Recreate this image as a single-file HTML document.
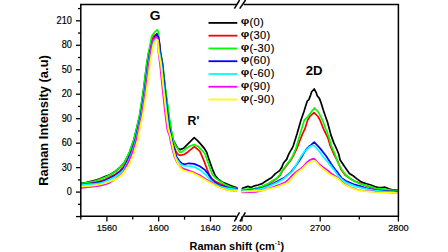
<!DOCTYPE html>
<html><head><meta charset="utf-8"><style>
html,body{margin:0;padding:0;background:#fff;}
body{width:448px;height:252px;overflow:hidden;}
svg{display:block;font-family:"Liberation Sans",sans-serif;}
</style></head><body>
<svg width="448" height="252" viewBox="0 0 448 252">
<rect width="448" height="252" fill="#fff"/>
<g fill="none" stroke-width="1.7" stroke-linejoin="round" stroke-linecap="round">
<polyline points="81.0,183.4 86.0,182.5 90.0,181.6 95.0,180.4 100.0,178.8 105.0,176.6 110.0,174.8 115.0,171.5 120.0,167.3 124.0,163.1 126.8,158.0 129.6,152.0 133.9,140.0 136.8,128.0 139.6,116.0 141.5,104.0 143.3,92.0 144.8,80.0 146.8,64.0 148.8,52.0 152.6,40.2 154.4,37.4 156.9,34.2 158.4,37.6 159.2,42.0 159.6,44.0 160.4,52.0 162.6,64.0 164.3,80.0 165.6,92.0 166.7,100.0 168.0,110.0 169.3,120.0 170.9,130.0 173.2,140.0 175.6,144.5 178.0,148.6 180.4,149.6 183.5,148.3 188.7,143.1 194.2,137.6 197.8,140.9 201.8,145.4 204.5,148.6 206.6,152.1 209.3,160.4 211.3,166.0 212.7,169.9 215.2,175.6 218.5,179.5 222.0,182.0 225.8,183.6 230.0,185.4 234.0,186.7 237.0,187.8" stroke="black"/>
<polyline points="242.3,188.2 245.0,187.4 247.8,186.4 251.0,187.4 254.4,185.8 258.0,185.0 262.2,183.6 265.6,181.3 268.0,179.7 271.8,177.5 275.1,173.9 279.6,170.6 281.8,167.2 283.4,163.3 285.1,161.1 286.8,159.1 287.9,156.1 289.0,153.6 290.7,150.6 292.3,148.0 293.2,146.0 297.0,134.0 301.0,120.0 303.9,111.8 305.6,106.2 307.2,101.2 308.9,99.6 310.6,95.1 311.7,91.8 314.2,89.0 316.1,92.3 317.2,95.7 319.4,98.4 321.1,102.9 323.3,110.1 325.5,116.5 327.7,122.7 330.9,134.9 333.8,142.9 335.3,146.0 337.5,151.0 338.7,154.0 340.1,160.0 343.0,164.3 345.9,168.6 349.4,173.6 353.0,175.7 356.6,178.6 361.6,182.1 366.6,183.8 370.8,185.0 374.7,186.6 378.4,187.6 381.7,187.7 385.0,187.2 388.9,188.8 393.6,190.2 398.0,190.4" stroke="black"/>
<polyline points="81.0,184.3 86.0,183.6 90.0,183.0 95.0,182.3 100.0,181.2 105.0,179.5 110.0,177.0 115.0,174.4 120.0,170.6 124.0,166.4 125.0,164.0 127.9,158.0 130.6,152.0 134.7,140.0 137.5,128.0 140.2,116.0 142.1,104.0 144.0,92.0 145.5,80.0 147.5,64.0 149.5,52.0 152.2,40.0 153.5,36.3 156.5,34.2 158.2,37.5 159.0,42.0 159.0,44.0 159.8,52.0 161.9,64.0 163.5,80.0 164.8,92.0 165.7,100.0 166.8,110.0 168.0,120.0 169.4,130.0 171.8,140.0 173.8,146.0 176.5,152.5 178.6,154.8 181.0,155.3 184.5,154.2 188.2,151.7 194.3,146.7 197.3,149.0 199.9,151.4 201.0,153.8 203.8,160.4 207.1,169.3 209.5,175.0 212.0,178.8 215.5,181.5 220.0,183.8 224.7,185.8 230.0,187.5 237.0,189.0" stroke="red"/>
<polyline points="242.3,190.2 250.0,189.6 262.0,187.0 268.0,184.2 272.0,181.8 276.8,178.6 280.0,175.5 282.9,169.8 285.1,167.6 287.3,164.5 290.7,160.2 293.0,156.5 297.1,148.0 299.3,142.0 302.1,134.9 304.9,128.9 307.7,120.0 310.0,116.2 314.0,112.6 318.0,116.5 320.0,120.0 323.8,129.6 325.0,132.0 327.8,137.5 330.3,146.0 334.2,154.9 337.6,161.0 340.9,169.3 345.1,175.0 350.0,178.5 355.1,181.4 359.4,182.9 366.0,185.8 374.7,188.6 384.6,190.0 394.5,191.6 398.0,192.0" stroke="red"/>
<polyline points="81.0,183.6 86.0,182.8 90.0,182.0 95.0,181.0 100.0,179.3 105.0,177.3 110.0,175.0 115.0,171.6 120.0,167.3 124.0,163.2 126.6,158.0 129.4,152.0 133.7,140.0 136.7,128.0 139.4,116.0 141.3,104.0 143.2,92.0 144.7,80.0 146.7,64.0 148.7,52.0 150.8,41.0 151.6,36.5 153.2,34.0 155.2,31.5 157.5,29.8 158.4,32.8 159.0,37.5 159.0,44.0 160.0,52.0 162.4,64.0 164.3,80.0 165.8,92.0 167.0,100.0 168.3,110.0 169.7,120.0 171.3,130.0 173.3,140.0 175.5,145.3 177.7,148.6 179.6,152.3 182.1,151.8 186.0,148.4 190.0,146.0 194.3,144.6 198.2,146.4 201.0,149.3 204.9,153.8 207.7,161.6 210.4,169.6 212.5,174.6 215.5,177.8 220.0,181.3 225.8,184.9 231.0,187.0 237.0,188.6" stroke="#00ff00"/>
<polyline points="242.3,189.7 248.0,189.2 255.0,188.6 262.0,186.3 268.0,183.6 272.0,181.0 277.3,178.0 280.0,174.5 282.9,169.0 285.1,166.8 287.3,163.5 289.0,161.5 291.2,158.5 292.3,156.9 296.0,148.0 300.1,134.0 304.3,120.0 306.9,117.7 309.9,113.8 314.4,108.0 318.8,112.8 322.8,120.7 325.7,128.7 328.9,136.9 331.4,146.0 334.8,153.8 338.0,162.9 342.3,170.7 346.6,175.7 352.3,180.0 359.4,183.6 366.0,185.4 370.0,186.4 375.5,188.3 385.0,189.2 394.5,190.8 398.0,191.2" stroke="#00ff00"/>
<polyline points="81.0,184.8 86.0,184.2 90.0,183.6 95.0,183.0 100.0,182.2 105.0,180.6 110.0,178.3 115.0,175.6 120.0,172.0 124.0,168.0 125.9,164.0 128.7,158.0 131.3,152.0 135.3,140.0 138.0,128.0 140.7,116.0 142.6,104.0 144.5,92.0 146.0,80.0 148.0,64.0 150.0,52.0 152.8,40.4 154.6,37.6 157.0,34.0 158.5,37.6 159.3,42.0 159.4,44.0 160.2,52.0 162.3,64.0 163.9,80.0 165.2,92.0 166.1,100.0 167.2,110.0 168.4,120.0 169.8,130.0 171.0,136.0 172.5,143.0 174.5,150.0 176.6,156.6 179.0,160.5 182.0,163.6 185.0,164.3 188.7,163.3 194.2,163.9 199.8,166.2 204.9,169.9 208.2,174.0 210.8,178.2 215.0,182.6 219.1,185.0 225.0,186.9 230.2,188.0 237.0,188.9" stroke="blue"/>
<polyline points="242.3,190.8 250.0,190.2 262.0,188.2 268.0,186.0 272.7,183.8 278.0,181.0 281.6,179.0 284.6,177.5 287.3,175.2 290.7,172.4 295.1,166.9 299.6,160.2 302.2,156.0 303.4,153.8 306.8,148.6 309.0,146.5 311.1,145.0 314.2,142.2 318.3,146.4 322.2,150.9 326.1,155.9 327.6,158.2 331.4,164.3 335.9,170.4 338.0,172.9 341.6,177.9 346.6,181.4 353.7,184.3 360.9,186.4 366.0,188.0 374.7,190.0 385.0,191.0 394.5,191.7 398.0,192.0" stroke="blue"/>
<polyline points="81.0,185.1 86.0,184.6 90.0,184.2 95.0,183.8 100.0,183.2 105.0,181.6 110.0,179.3 115.0,176.8 120.0,173.3 124.0,169.4 126.8,164.0 129.6,158.0 132.1,152.0 135.9,140.0 138.5,128.0 141.2,116.0 143.1,104.0 145.0,92.0 146.5,80.0 148.5,64.0 150.5,52.0 153.0,42.0 154.6,39.5 156.1,37.5 157.6,39.5 158.4,43.0 159.4,52.0 161.5,64.0 163.1,80.0 164.4,92.0 165.3,100.0 166.4,110.0 167.6,120.0 169.0,130.0 170.3,136.0 171.8,143.0 173.6,150.0 175.8,157.5 178.5,161.8 181.5,165.0 184.5,166.0 190.0,166.0 195.6,167.4 201.2,170.8 206.7,175.7 211.0,180.5 214.7,183.8 219.0,186.0 225.0,187.8 237.0,189.6" stroke="#00ffff"/>
<polyline points="242.3,191.0 250.0,190.5 262.0,188.6 268.0,186.6 272.7,184.5 278.0,182.0 283.4,179.0 287.9,175.2 291.8,171.9 295.7,165.8 300.7,156.9 304.6,151.3 306.2,150.2 309.4,146.8 312.8,145.3 314.5,146.0 316.7,148.5 320.3,152.5 322.5,156.0 326.4,160.4 331.4,166.6 335.3,171.6 338.0,175.7 345.1,182.1 355.1,186.4 366.0,188.8 374.7,190.6 385.0,191.5 394.5,192.2 398.0,192.3" stroke="#00ffff"/>
<polyline points="81.0,187.9 86.0,187.3 90.0,186.9 95.0,186.4 100.0,185.6 105.0,184.5 110.0,182.6 115.0,179.4 120.0,175.5 124.0,171.3 127.6,164.0 130.2,158.0 132.7,152.0 136.4,140.0 138.9,128.0 141.6,116.0 143.5,104.0 145.4,92.0 146.9,80.0 148.9,64.0 150.9,52.0 151.4,44.7 152.4,40.8 154.5,38.0 156.4,36.9 157.5,38.5 158.0,41.0 158.0,44.0 158.4,52.0 160.0,64.0 161.6,80.0 162.9,92.0 163.7,100.0 164.8,110.0 166.0,120.0 167.4,130.0 169.6,136.0 171.0,143.0 172.6,150.0 174.5,157.0 176.8,162.0 179.5,166.0 182.5,168.2 187.3,170.0 192.8,172.0 199.8,175.3 206.7,179.6 212.0,182.8 216.9,186.2 221.0,187.8 225.8,189.5 231.0,190.4 236.5,191.0" stroke="#ff00ff"/>
<polyline points="242.3,192.4 250.0,192.2 256.0,191.9 262.0,190.4 268.0,188.8 274.5,186.5 280.0,184.5 285.2,182.3 288.0,180.0 292.9,174.7 296.2,171.9 300.7,168.6 303.4,166.3 306.2,163.0 309.6,160.2 312.0,159.1 313.8,158.7 314.8,159.3 318.7,163.8 323.1,167.1 327.6,170.4 330.9,173.2 338.0,177.9 343.7,183.6 352.3,187.9 358.0,190.0 366.0,191.0 374.7,191.7 394.5,192.7 398.0,192.8" stroke="#ff00ff"/>
<polyline points="81.0,186.7 86.0,186.2 90.0,185.8 95.0,185.3 100.0,184.5 105.0,183.2 110.0,181.5 115.0,179.6 120.0,176.3 124.0,172.2 129.4,164.0 131.9,158.0 134.2,152.0 137.7,140.0 139.9,128.0 142.6,116.0 144.5,104.0 146.4,92.0 147.9,80.0 149.9,64.0 151.9,52.0 152.1,50.4 153.1,46.1 154.6,42.6 156.7,39.2 157.8,40.4 158.1,46.1 158.5,51.1 160.9,64.0 162.5,80.0 163.8,92.0 164.7,100.0 165.8,110.0 167.0,120.0 168.4,130.0 170.4,136.0 171.8,143.0 173.3,150.0 175.0,156.5 177.2,162.0 179.8,166.8 183.1,170.3 187.3,171.5 192.8,172.9 199.8,176.6 206.7,180.8 212.0,183.6 216.9,186.3 221.0,188.0 225.8,189.6 231.0,190.5 237.0,190.9" stroke="#ffff00"/>
<polyline points="242.3,191.6 250.0,191.2 262.0,190.6 270.0,188.5 276.3,187.0 283.0,184.5 287.0,183.0 291.0,179.5 294.0,175.8 297.3,172.4 301.8,169.1 305.1,165.8 307.9,163.0 312.0,161.3 315.3,161.0 318.7,164.9 323.1,168.8 327.6,172.7 330.0,174.5 338.0,178.6 343.7,184.0 352.3,188.3 358.0,190.3 366.0,191.3 374.7,192.0 394.5,192.9 398.0,193.0" stroke="#ffff00"/>
</g>
<g stroke="#000" stroke-width="1.5" fill="none">
<polyline points="236.6,4.4 80.8,4.4 80.8,216.3 236.2,216.3"/>
<polyline points="243.6,4.4 398.4,4.4 398.4,216.3 244.2,216.3"/>
<line x1="234.4" y1="8.6" x2="239.6" y2="0"/>
<line x1="239.7" y1="8.6" x2="245.6" y2="0"/>
<line x1="234.3" y1="221.5" x2="239.5" y2="212.3"/>
<line x1="239.9" y1="221.5" x2="245.4" y2="212.3"/>
</g>
<g stroke="#000" stroke-width="1.3">
<line x1="76" y1="216.57" x2="80.8" y2="216.57"/>
<line x1="76" y1="192.10" x2="80.8" y2="192.10"/>
<line x1="76" y1="167.63" x2="80.8" y2="167.63"/>
<line x1="76" y1="143.16" x2="80.8" y2="143.16"/>
<line x1="76" y1="118.69" x2="80.8" y2="118.69"/>
<line x1="76" y1="94.22" x2="80.8" y2="94.22"/>
<line x1="76" y1="69.75" x2="80.8" y2="69.75"/>
<line x1="76" y1="45.28" x2="80.8" y2="45.28"/>
<line x1="76" y1="20.81" x2="80.8" y2="20.81"/>
<line x1="78" y1="204.33" x2="80.8" y2="204.33"/>
<line x1="78" y1="179.87" x2="80.8" y2="179.87"/>
<line x1="78" y1="155.39" x2="80.8" y2="155.39"/>
<line x1="78" y1="130.93" x2="80.8" y2="130.93"/>
<line x1="78" y1="106.45" x2="80.8" y2="106.45"/>
<line x1="78" y1="81.98" x2="80.8" y2="81.98"/>
<line x1="78" y1="57.52" x2="80.8" y2="57.52"/>
<line x1="78" y1="33.05" x2="80.8" y2="33.05"/>
<line x1="78" y1="8.58" x2="80.8" y2="8.58"/>
<line x1="106.89" y1="216.3" x2="106.89" y2="221.5"/>
<line x1="158.67" y1="216.3" x2="158.67" y2="221.5"/>
<line x1="210.45" y1="216.3" x2="210.45" y2="221.5"/>
<line x1="132.78" y1="216.3" x2="132.78" y2="219.6"/>
<line x1="184.56" y1="216.3" x2="184.56" y2="219.6"/>
<line x1="236.34" y1="216.3" x2="236.34" y2="219.6"/>
<line x1="242.00" y1="216.3" x2="242.00" y2="221.5"/>
<line x1="320.20" y1="216.3" x2="320.20" y2="221.5"/>
<line x1="398.40" y1="216.3" x2="398.40" y2="221.5"/>
<line x1="281.10" y1="216.3" x2="281.10" y2="219.6"/>
<line x1="359.30" y1="216.3" x2="359.30" y2="219.6"/>
<line x1="80.8" y1="216.3" x2="80.8" y2="219.6"/>
</g>
<g fill="#000" stroke="#000" stroke-width="0.18">
<text transform="translate(71.9,195.28) scale(0.92,1)" text-anchor="end" font-size="10.0">0</text>
<text transform="translate(71.9,170.81) scale(0.92,1)" text-anchor="end" font-size="10.0">30</text>
<text transform="translate(71.9,146.34) scale(0.92,1)" text-anchor="end" font-size="10.0">60</text>
<text transform="translate(71.9,121.87) scale(0.92,1)" text-anchor="end" font-size="10.0">90</text>
<text transform="translate(71.9,97.40) scale(0.92,1)" text-anchor="end" font-size="10.0">20</text>
<text transform="translate(71.9,72.93) scale(0.92,1)" text-anchor="end" font-size="10.0">50</text>
<text transform="translate(71.9,48.46) scale(0.92,1)" text-anchor="end" font-size="10.0">80</text>
<text transform="translate(71.9,23.99) scale(0.92,1)" text-anchor="end" font-size="10.0">210</text>
<text x="106.89" y="230.7" text-anchor="middle" font-size="9.2">1560</text>
<text x="158.67" y="230.7" text-anchor="middle" font-size="9.2">1600</text>
<text x="210.45" y="230.7" text-anchor="middle" font-size="9.2">1640</text>
<text x="242.00" y="230.7" text-anchor="middle" font-size="9.2">2600</text>
<text x="320.20" y="230.7" text-anchor="middle" font-size="9.2">2700</text>
<text x="398.40" y="230.7" text-anchor="middle" font-size="9.2">2800</text>
</g>
<g fill="#000">
<line x1="208.5" y1="22.90" x2="237.3" y2="22.90" stroke="black" stroke-width="1.8"/>
<text transform="translate(240.8,24.10) scale(1.2,0.95)" font-weight="bold" font-size="10">&#966;</text>
<text transform="translate(249.4,26.15) scale(1.05,1)" font-size="10.6" letter-spacing="0.35" stroke="#000" stroke-width="0.15">(0)</text>
<line x1="208.5" y1="35.67" x2="237.3" y2="35.67" stroke="red" stroke-width="1.8"/>
<text transform="translate(240.8,36.87) scale(1.2,0.95)" font-weight="bold" font-size="10">&#966;</text>
<text transform="translate(249.4,38.92) scale(1.05,1)" font-size="10.6" letter-spacing="0.35" stroke="#000" stroke-width="0.15">(30)</text>
<line x1="208.5" y1="48.44" x2="237.3" y2="48.44" stroke="#00ff00" stroke-width="1.8"/>
<text transform="translate(240.8,49.64) scale(1.2,0.95)" font-weight="bold" font-size="10">&#966;</text>
<text transform="translate(249.4,51.69) scale(1.05,1)" font-size="10.6" letter-spacing="0.35" stroke="#000" stroke-width="0.15">(-30)</text>
<line x1="208.5" y1="61.21" x2="237.3" y2="61.21" stroke="blue" stroke-width="1.8"/>
<text transform="translate(240.8,62.41) scale(1.2,0.95)" font-weight="bold" font-size="10">&#966;</text>
<text transform="translate(249.4,64.46) scale(1.05,1)" font-size="10.6" letter-spacing="0.35" stroke="#000" stroke-width="0.15">(60)</text>
<line x1="208.5" y1="73.98" x2="237.3" y2="73.98" stroke="#00ffff" stroke-width="1.8"/>
<text transform="translate(240.8,75.18) scale(1.2,0.95)" font-weight="bold" font-size="10">&#966;</text>
<text transform="translate(249.4,77.23) scale(1.05,1)" font-size="10.6" letter-spacing="0.35" stroke="#000" stroke-width="0.15">(-60)</text>
<line x1="208.5" y1="86.75" x2="237.3" y2="86.75" stroke="#ff00ff" stroke-width="1.8"/>
<text transform="translate(240.8,87.95) scale(1.2,0.95)" font-weight="bold" font-size="10">&#966;</text>
<text transform="translate(249.4,90.00) scale(1.05,1)" font-size="10.6" letter-spacing="0.35" stroke="#000" stroke-width="0.15">(90)</text>
<line x1="208.5" y1="99.52" x2="237.3" y2="99.52" stroke="#ffff00" stroke-width="1.8"/>
<text transform="translate(240.8,100.72) scale(1.2,0.95)" font-weight="bold" font-size="10">&#966;</text>
<text transform="translate(249.4,102.77) scale(1.05,1)" font-size="10.6" letter-spacing="0.35" stroke="#000" stroke-width="0.15">(-90)</text>
</g>
<g font-weight="bold" fill="#000">
<text transform="translate(155.15,19.6) scale(1.12,1)" font-size="12.3" text-anchor="middle">G</text>
<text x="193.5" y="124.6" font-size="12.3" text-anchor="middle">R'</text>
<text transform="translate(314.15,75) scale(1.07,1)" font-size="12.3" text-anchor="middle">2D</text>
<text x="189.6" y="249.9" font-size="11" textLength="62.6" lengthAdjust="spacingAndGlyphs">Raman shift</text>
<text x="255.3" y="249.9" font-size="11">(cm</text>
<text x="275.0" y="245.2" font-size="5.5">-</text>
<text x="277.3" y="245.2" font-size="5.5">1</text>
<text x="280.5" y="249.9" font-size="11">)</text>
<text transform="translate(48.4,120.5) rotate(-90) scale(1.06,1)" font-size="12.2" text-anchor="middle">Raman Intensity (a.u)</text>
</g>
</svg>
</body></html>
